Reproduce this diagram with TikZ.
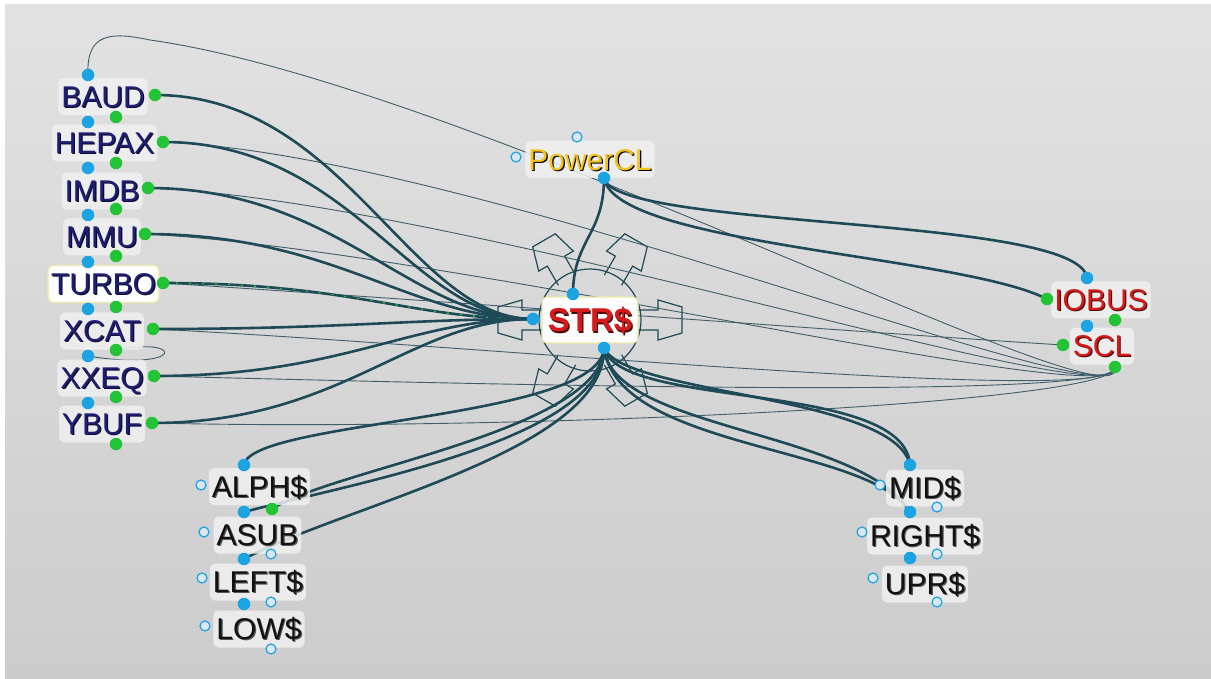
\documentclass[tikz,border=0pt]{standalone}
\usepackage{fontspec}
\setmainfont{Liberation Sans}
\definecolor{bgtop}{HTML}{E2E2E2}
\definecolor{bgbot}{HTML}{CCCCCC}
\definecolor{boxfill}{HTML}{F0F0F0}
\definecolor{selyellow}{HTML}{EEE9A8}
\definecolor{navy}{HTML}{1E1E74}
\definecolor{navysh}{HTML}{0A0A2A}
\definecolor{sred}{HTML}{D41A1A}
\definecolor{sredsh}{HTML}{4A0A0A}
\definecolor{pyellow}{HTML}{F4C21C}
\definecolor{blk}{HTML}{111111}
\definecolor{blksh}{HTML}{555555}
\definecolor{portblue}{HTML}{1CA3E2}
\definecolor{portgreen}{HTML}{22C435}
\definecolor{hollowfill}{HTML}{DCE6EE}
\definecolor{linkdark}{HTML}{1E4A57}
\definecolor{linkthin}{HTML}{3F5E69}
\newcommand\shd[3]{\makebox[0pt][l]{\kern1.2pt\raisebox{-1.2pt}{\textcolor{#2}{#3}}}\textcolor{#1}{#3}}
\pgfdeclarelayer{bg}
\pgfdeclarelayer{edges}
\pgfsetlayers{bg,edges,main}
\tikzset{
  lbl/.style={rounded corners=5pt, fill=boxfill, fill opacity=0.85, text opacity=1,
    inner xsep=3pt, inner ysep=0pt, minimum height=37pt, text height=21.5pt, text depth=0pt,
    font=\fontsize{30}{32}\selectfont},
  sel/.style={lbl, draw=selyellow, line width=1.3pt, fill=white, fill opacity=0.95},
  bport/.style={circle, fill=portblue, inner sep=0pt, minimum size=12.5pt},
  gport/.style={circle, fill=portgreen, inner sep=0pt, minimum size=12.5pt},
  hport/.style={circle, draw=portblue, fill=hollowfill, line width=1.2pt, inner sep=0pt, minimum size=10pt},
  tlink/.style={draw=linkdark, line width=2.6pt},
  slink/.style={draw=linkthin, line width=0.9pt},
  deco/.style={draw=linkdark, line width=1.2pt},
}
\begin{document}
\begin{tikzpicture}[x=1pt, y=-1pt]
\useasboundingbox (0,0) rectangle (1211,679);
\begin{pgfonlayer}{bg}
  \fill[white] (0,0) rectangle (1211,679);
  \shade[top color=bgtop, bottom color=bgbot] (5,5) rectangle (1211,679);
\end{pgfonlayer}

% ---- labelled boxes ----
\node[lbl] (baud)  at (103,96.5) {\shd{navy}{navysh}{BAUD}};
\node[lbl] (hepax) at (104.5,143) {\shd{navy}{navysh}{HEPAX}};
\node[lbl] (imdb)  at (102,191) {\shd{navy}{navysh}{IMDB}};
\node[lbl] (mmu)   at (102,237) {\shd{navy}{navysh}{MMU}};
\node[sel] (turbo) at (103.5,284) {\shd{navy}{navysh}{TURBO}};
\node[lbl] (xcat)  at (102,331) {\shd{navy}{navysh}{XCAT}};
\node[lbl] (xxeq)  at (102,378) {\shd{navy}{navysh}{XXEQ}};
\node[lbl] (ybuf)  at (102,424) {\shd{navy}{navysh}{YBUF}};

\node[lbl] (powercl) at (590,159.5) {\shd{pyellow}{black}{PowerCL}};
\node[sel, minimum height=46pt, minimum width=96pt, text height=23.6pt,
      font=\bfseries\fontsize{33}{35}\selectfont] (strs) at (590,320) {\shd{sred}{sredsh}{STR\$}};
\node[lbl] (iobus) at (1101,300) {\shd{sred}{sredsh}{IOBUS}};
\node[lbl] (scl)   at (1102,346) {\shd{sred}{sredsh}{SCL}};

\node[lbl] (alph)  at (259.5,486.5) {\shd{blk}{blksh}{ALPH\$}};
\node[lbl] (asub)  at (257.5,535) {\shd{blk}{blksh}{ASUB}};
\node[lbl] (left)  at (258,582) {\shd{blk}{blksh}{LEFT\$}};
\node[lbl] (low)   at (259,629) {\shd{blk}{blksh}{LOW\$}};
\node[lbl] (mid)   at (925,488) {\shd{blk}{blksh}{MID\$}};
\node[lbl] (right) at (925,536) {\shd{blk}{blksh}{RIGHT\$}};
\node[lbl] (upr)   at (925,584) {\shd{blk}{blksh}{UPR\$}};

% ---- ports ----
\node[bport] (baudT)  at (88,75) {};
\node[bport] (hepaxT) at (88,122) {};
\node[bport] (imdbT)  at (88,168) {};
\node[bport] (mmuT)   at (88,215) {};
\node[bport] (turboT) at (88,262) {};
\node[bport] (xcatT)  at (88,309) {};
\node[bport] (xxeqT)  at (88,356) {};
\node[bport] (ybufT)  at (88,403) {};
\node[gport] (baudR)  at (155,95) {};
\node[gport] (hepaxR) at (163,142) {};
\node[gport] (imdbR)  at (148,188) {};
\node[gport] (mmuR)   at (145,234) {};
\node[gport] (turboR) at (163,283) {};
\node[gport] (xcatR)  at (153,329) {};
\node[gport] (xxeqR)  at (154,376) {};
\node[gport] (ybufR)  at (152,423) {};
\node[gport] (baudB)  at (116,117) {};
\node[gport] (hepaxB) at (116,163) {};
\node[gport] (imdbB)  at (116,209) {};
\node[gport] (mmuB)   at (116,256) {};
\node[gport] (turboB) at (116,307) {};
\node[gport] (xcatB)  at (116,350) {};
\node[gport] (xxeqB)  at (116,397) {};
\node[gport] (ybufB)  at (116,444) {};

\node[hport] (pcT) at (577,137) {};
\node[hport] (pcL) at (516,157) {};
\node[bport] (pcB) at (604,178) {};
\node[bport] (strL) at (533,319) {};
\node[bport] (strT) at (573,294) {};
\node[bport] (strB) at (604,348) {};
\node[bport] (iobT) at (1087,278) {};
\node[gport] (iobL) at (1047,299) {};
\node[gport] (iobB) at (1115,320) {};
\node[bport] (sclT) at (1087,326) {};
\node[gport] (sclL) at (1063,345) {};
\node[gport] (sclB) at (1115,367) {};

\node[bport] (alphT) at (244,465) {};
\node[hport] (alphL) at (201,485) {};
\node[gport] (alphB) at (272,509) {};
\node[bport] (asubT) at (244,512) {};
\node[hport] (asubL) at (204,532) {};
\node[hport] (asubB) at (271,554) {};
\node[bport] (leftT) at (244,559) {};
\node[hport] (leftL) at (202,578) {};
\node[hport] (leftB) at (271,602) {};
\node[bport] (lowT)  at (244,604) {};
\node[hport] (lowL)  at (205,626) {};
\node[hport] (lowB)  at (271,649) {};
\node[bport] (midT)   at (910,465) {};
\node[hport] (midL)   at (880,485) {};
\node[hport] (midB)   at (937,507) {};
\node[bport] (rightT) at (910,512) {};
\node[hport] (rightL) at (862,532) {};
\node[hport] (rightB) at (937,554) {};
\node[bport] (uprT)   at (910,558) {};
\node[hport] (uprL)   at (873,578) {};
\node[hport] (uprB)   at (937,602) {};

\begin{pgfonlayer}{edges}
  % selection decoration around STR$
  \draw[deco] (strs.center) circle[radius=51];
  \foreach \a in {0,60,120,180,240,300}
    \draw[deco, shift={(strs.center)}, rotate=\a]
      (46,-10) -- (68,-10) -- (68,-20) -- (92,-13) -- (92,13) -- (68,20) -- (68,10) -- (46,10);

  % thin links
  \draw[slink] (baudT.center) .. controls (86,32) and (112,32) .. (150,40)
                 .. controls (470,85) and (1130,435) .. (sclB.center);
  \draw[slink] (hepaxR.center) .. controls (480,155) and (1125,425) .. (sclB.center);
  \draw[slink] (imdbR.center) .. controls (460,200) and (1125,420) .. (sclB.center);
  \draw[slink] (mmuR.center) .. controls (450,250) and (1125,415) .. (sclB.center);
  \draw[slink] (xcatR.center) .. controls (480,345) and (1122,408) .. (sclB.center);
  \draw[slink] (xxeqR.center) .. controls (620,388) and (1120,398) .. (sclB.center);
  \draw[slink] (ybufR.center) .. controls (520,432) and (1122,403) .. (sclB.center);
  \draw[slink] (turboR.center) .. controls (500,305) and (900,335) .. (sclL.center);
  \draw[slink] (xcatB.center) .. controls (185,336) and (185,372) .. (xxeqT.center);

  % thick links into STR$
  \draw[tlink] (baudR.center)  .. controls (345,95)  and (410,319) .. (strL.center);
  \draw[tlink] (hepaxR.center) .. controls (353,142) and (410,319) .. (strL.center);
  \draw[tlink] (imdbR.center)  .. controls (338,188) and (410,319) .. (strL.center);
  \draw[tlink] (mmuR.center)   .. controls (335,234) and (410,319) .. (strL.center);
  \draw[tlink] (turboR.center) .. controls (353,283) and (410,319) .. (strL.center);
  \draw[portgreen, line width=1.3pt, dash pattern=on 2pt off 11pt]
        (turboR.center) .. controls (353,283) and (410,319) .. (strL.center);
  \draw[tlink] (xcatR.center)  .. controls (343,329) and (410,319) .. (strL.center);
  \draw[tlink] (xxeqR.center)  .. controls (344,376) and (410,319) .. (strL.center);
  \draw[tlink] (ybufR.center)  .. controls (342,423) and (410,319) .. (strL.center);

  % PowerCL links
  \draw[tlink] (pcB.center) .. controls (615,230) and (1080,215) .. (iobT.center);
  \draw[tlink] (pcB.center) .. controls (615,245) and (960,255) .. (iobL.center);
  \draw[tlink] (pcB.center) .. controls (604,235) and (573,240) .. (strT.center);

  % STR$ bottom to lower nodes
  \draw[tlink] (strB.center) .. controls (600,420) and (250,420) .. (alphT.center);
  \draw[tlink] (strB.center) .. controls (602,430) and (330,470) .. (alphB.center);
  \draw[tlink] (strB.center) .. controls (604,440) and (345,485) .. (asubT.center);
  \draw[tlink] (strB.center) .. controls (606,450) and (345,505) .. (leftT.center);
  \draw[tlink] (strB.center) .. controls (620,410) and (905,380) .. (midT.center);
  \draw[tlink] (strB.center) .. controls (625,395) and (895,395) .. (midT.center);
  \draw[tlink] (strB.center) .. controls (618,450) and (870,445) .. (rightT.center);
  \draw[tlink] (strB.center) .. controls (612,430) and (860,430) .. (rightT.center);
\end{pgfonlayer}
\end{tikzpicture}
\end{document}
